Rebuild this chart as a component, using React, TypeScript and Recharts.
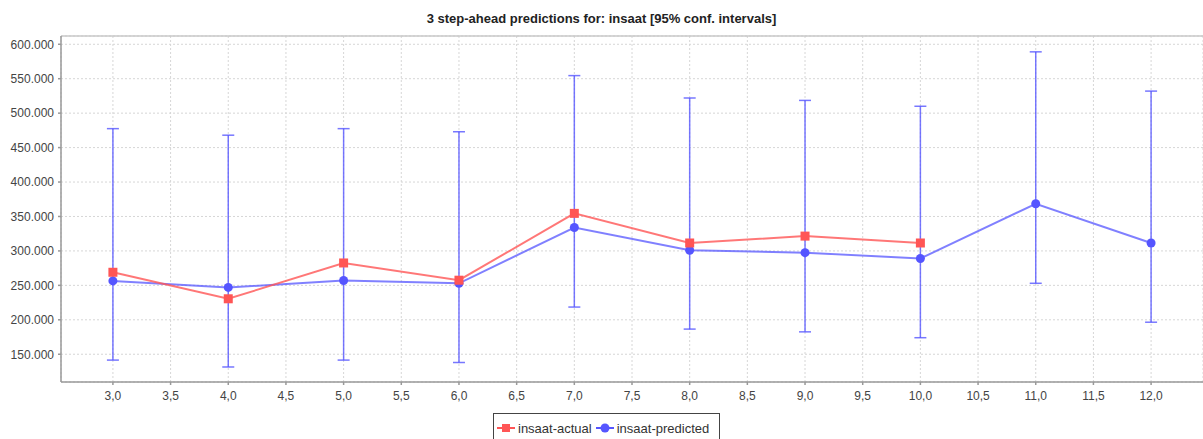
import React from 'react';
import { LineChart, Line, XAxis, YAxis, CartesianGrid, ErrorBar, Legend, ReferenceLine } from 'recharts';

// steps ahead and the values
const steps = [3, 4, 5, 6, 7, 8, 9, 10, 11, 12];
const actual = [269000, 230500, 282500, 257500, 354500, 311500, 321500, 311500, null, null];
const predicted = [256500, 247000, 257000, 253000, 334000, 301000, 297500, 289000, 368500, 311500];
const upper = [477500, 468000, 477500, 473000, 554500, 522000, 518500, 510000, 589000, 532000];
const lower = [141500, 131500, 141500, 138000, 218500, 186500, 182500, 174000, 253000, 196500];

const xTicks = [3, 3.5, 4, 4.5, 5, 5.5, 6, 6.5, 7, 7.5, 8, 8.5, 9, 9.5, 10, 10.5, 11, 11.5, 12];
const yTicks = [150000, 200000, 250000, 300000, 350000, 400000, 450000, 500000, 550000, 600000];

const data = steps.map((s, i) => ({
    step: s,
    actual: actual[i],
    predicted: predicted[i],
    err: [predicted[i] - lower[i], upper[i] - predicted[i]],
}));

const FONT = "'Liberation Sans Narrow', 'Arial Narrow', 'Liberation Sans', Arial, sans-serif";
const RED = '#ff5555';
const BLUE = '#5555ff';

const fmtY = (v: number) => `${Math.floor(v / 1000)}.${String(v % 1000).padStart(3, '0')}`;
const fmtX = (v: number) => v.toFixed(1).replace('.', ',');

const SquareDot = (props: any) => {
    const { cx, cy, index } = props;
    if (cx == null || cy == null) return <g key={`sq-${index}`} />;
    return <rect key={`sq-${index}`} x={cx - 4.5} y={cy - 4.5} width={9} height={9} fill={RED} />;
};

const LegendBox = () => (
    <div
        style={{
            width: 225,
            height: 28,
            border: '1px solid #444',
            background: '#fff',
            display: 'flex',
            alignItems: 'center',
            whiteSpace: 'nowrap',
            fontFamily: FONT,
            fontSize: 13,
            color: '#333',
            boxSizing: 'content-box',
        }}
    >
        <svg width={18} height={10} style={{ marginLeft: 3, marginRight: 3, flex: 'none' }}>
            <line x1={0} y1={5} x2={18} y2={5} stroke={RED} strokeWidth={2} />
            <rect x={5} y={1} width={8} height={8} fill={RED} />
        </svg>
        <span>insaat-actual</span>
        <svg width={18} height={10} style={{ marginLeft: 4, marginRight: 3, flex: 'none' }}>
            <line x1={0} y1={5} x2={18} y2={5} stroke={BLUE} strokeWidth={2} />
            <circle cx={9} cy={5} r={4.5} fill={BLUE} />
        </svg>
        <span>insaat-predicted</span>
    </div>
);

export default function App() {
    return (
        <div style={{ position: 'absolute', left: 0, top: 0, width: 1203, height: 439, background: '#fff', overflow: 'hidden' }}>
            <div
                style={{
                    position: 'absolute',
                    top: 11,
                    left: 0,
                    width: 1203,
                    textAlign: 'center',
                    fontFamily: FONT,
                    fontWeight: 'bold',
                    fontSize: 13,
                    color: '#222',
                }}
            >
                3 step-ahead predictions for: insaat [95% conf. intervals]
            </div>
            <LineChart width={1203} height={439} data={data} margin={{ top: 36, right: 0, bottom: 0, left: 0 }}>
                <CartesianGrid stroke="#d6d6d6" strokeDasharray="2 2" />
                <XAxis
                    dataKey="step"
                    type="number"
                    domain={[2.55, 12.45]}
                    ticks={xTicks}
                    tickFormatter={fmtX}
                    allowDataOverflow
                    height={57}
                    stroke="#999"
                    strokeWidth={1.5}
                    tickSize={3}
                    tick={{ fill: '#444', fontSize: 12, fontFamily: FONT }}
                    tickMargin={6}
                />
                <YAxis
                    type="number"
                    domain={[109700, 612000]}
                    ticks={yTicks}
                    tickFormatter={fmtY}
                    allowDataOverflow
                    width={61}
                    stroke="#999"
                    strokeWidth={1.5}
                    tickSize={3}
                    tick={{ fill: '#444', fontSize: 12, fontFamily: FONT }}
                    tickMargin={4}
                />
                <ReferenceLine y={612000} stroke="#c8c8c8" strokeWidth={1.5} />
                <Legend
                    layout="horizontal"
                    verticalAlign="middle"
                    content={<LegendBox />}
                    wrapperStyle={{ top: 413, left: 493, width: 227 }}
                />
                <Line
                    dataKey="predicted"
                    type="linear"
                    stroke={BLUE}
                    strokeOpacity={0.75}
                    strokeWidth={2}
                    dot={{ r: 4.5, fill: BLUE, stroke: 'none' }}
                    isAnimationActive={false}
                >
                    <ErrorBar dataKey="err" direction="y" width={6} stroke={BLUE} strokeOpacity={0.8} strokeWidth={1.5} />
                </Line>
                <Line
                    dataKey="actual"
                    type="linear"
                    stroke={RED}
                    strokeOpacity={0.8}
                    strokeWidth={2}
                    dot={SquareDot}
                    connectNulls={false}
                    isAnimationActive={false}
                />
            </LineChart>
        </div>
    );
}
